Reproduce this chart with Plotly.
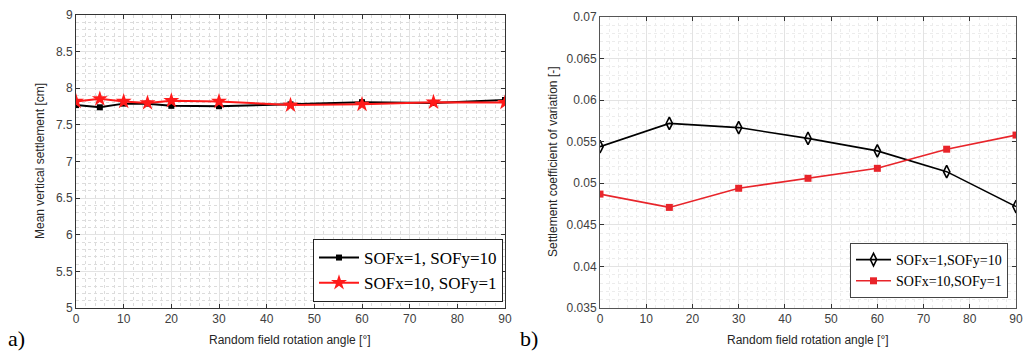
import plotly.graph_objects as go

# ---- data ----
angles_a = [0, 5, 10, 15, 20, 30, 45, 60, 75, 90]
mean_sofx1 = [7.77, 7.74, 7.79, 7.79, 7.76, 7.755, 7.78, 7.81, 7.80, 7.84]
mean_sofx10 = [7.82, 7.855, 7.82, 7.80, 7.83, 7.82, 7.77, 7.78, 7.81, 7.805]

angles_b = [0, 15, 30, 45, 60, 75, 90]
cov_sofx1 = [0.0544, 0.0572, 0.0567, 0.0554, 0.0539, 0.0514, 0.0472]
cov_sofx10 = [0.0487, 0.0471, 0.0494, 0.0506, 0.0518, 0.0541, 0.0558]

name1a = "SOFx=1, SOFy=10"
name2a = "SOFx=10, SOFy=1"
name1b = "SOFx=1,SOFy=10"
name2b = "SOFx=10,SOFy=1"

W, H = 1024, 353
def px_x(p): return p / W
def px_y(p): return (H - p) / H

fig = go.Figure()
fig.add_trace(go.Scatter(x=angles_a, y=mean_sofx1, name=name1a, mode="lines+markers",
                         line=dict(color="black", width=2),
                         marker=dict(symbol="square", size=6, color="black"),
                         xaxis="x", yaxis="y", legend="legend"))
fig.add_trace(go.Scatter(x=angles_a, y=mean_sofx10, name=name2a, mode="lines+markers",
                         line=dict(color="#ff1a1a", width=2),
                         marker=dict(symbol="star", size=12, color="#ff1a1a"),
                         xaxis="x", yaxis="y", legend="legend"))
fig.add_trace(go.Scatter(x=angles_b, y=cov_sofx1, name=name1b, mode="lines+markers",
                         line=dict(color="black", width=1.6),
                         marker=dict(symbol="diamond-tall-open", size=9, color="black",
                                     line=dict(width=1.6, color="black")),
                         xaxis="x2", yaxis="y2", legend="legend2"))
fig.add_trace(go.Scatter(x=angles_b, y=cov_sofx10, name=name2b, mode="lines+markers",
                         line=dict(color="#e8242a", width=1.6),
                         marker=dict(symbol="square", size=7, color="#e8242a"),
                         xaxis="x2", yaxis="y2", legend="legend2"))

tickfont = dict(family="Liberation Sans, Arial", size=12, color="#404040")
common = dict(showline=True, mirror="ticks", linecolor="#333333", linewidth=1,
              ticks="inside", ticklen=4, tickcolor="#333333", automargin=False,
              showgrid=True, gridcolor="#e3e3e3", gridwidth=1,
              zeroline=False, tickfont=tickfont)

fig.update_layout(
    width=W, height=H, margin=dict(l=0, r=0, t=0, b=0, autoexpand=False),
    paper_bgcolor="white", plot_bgcolor="white", showlegend=True,
    xaxis=dict(domain=[px_x(76), px_x(505)], range=[0, 90], dtick=10, anchor="y",
               minor=dict(dtick=2, showgrid=True, gridcolor="#dcdcdc", griddash="dot"),
               **common),
    yaxis=dict(domain=[px_y(308), px_y(15)], range=[5, 9], dtick=0.5, anchor="x",
               minor=dict(dtick=0.1, showgrid=True, gridcolor="#dcdcdc", griddash="dot"),
               **common),
    xaxis2=dict(domain=[px_x(600), px_x(1016)], range=[0, 90], dtick=10, anchor="y2",
                minor=dict(dtick=2, showgrid=True, gridcolor="#ececec", griddash="dot"),
                **{**common, "linecolor": "#555555"}),
    yaxis2=dict(domain=[px_y(308), px_y(17)], range=[0.035, 0.07], dtick=0.005, anchor="x2",
                tickformat=".3~f",
                minor=dict(dtick=0.001, showgrid=True, gridcolor="#ececec", griddash="dot"),
                **{**common, "linecolor": "#555555"}),
    legend=dict(x=px_x(503), y=px_y(302), xanchor="right", yanchor="bottom",
                bgcolor="white", bordercolor="#222222", borderwidth=1,
                font=dict(family="Liberation Serif, Times New Roman", size=17, color="black"),
                tracegroupgap=0, itemwidth=40),
    legend2=dict(x=px_x(1008), y=px_y(298), xanchor="right", yanchor="bottom",
                 bgcolor="white", bordercolor="#444444", borderwidth=1,
                 font=dict(family="Liberation Serif, Times New Roman", size=14, color="black"),
                 tracegroupgap=0, itemwidth=35),
)

axis_title_font = dict(family="Liberation Sans, Arial", size=12, color="#262626")
ann = [
    dict(text="Mean vertical settlement [cm]", x=px_x(40), y=px_y(161), textangle=-90,
         font=axis_title_font),
    dict(text="Random field rotation angle [°]", x=px_x(290), y=px_y(340),
         font=axis_title_font),
    dict(text="Settlement coefficient of variation [-]", x=px_x(553), y=px_y(162), textangle=-90,
         font=axis_title_font),
    dict(text="Random field rotation angle [°]", x=px_x(808), y=px_y(340),
         font=axis_title_font),
    dict(text="a)", x=px_x(16), y=px_y(338),
         font=dict(family="Liberation Serif, Times New Roman", size=22, color="black")),
    dict(text="b)", x=px_x(529), y=px_y(338),
         font=dict(family="Liberation Serif, Times New Roman", size=22, color="black")),
]
for a in ann:
    fig.add_annotation(xref="paper", yref="paper", showarrow=False,
                       xanchor="center", yanchor="middle", **a)

fig.write_html("out.html", config={"displayModeBar": False},
               post_script="document.body.style.margin='0';document.body.style.padding='0';"
                           "document.documentElement.style.overflow='hidden';")
